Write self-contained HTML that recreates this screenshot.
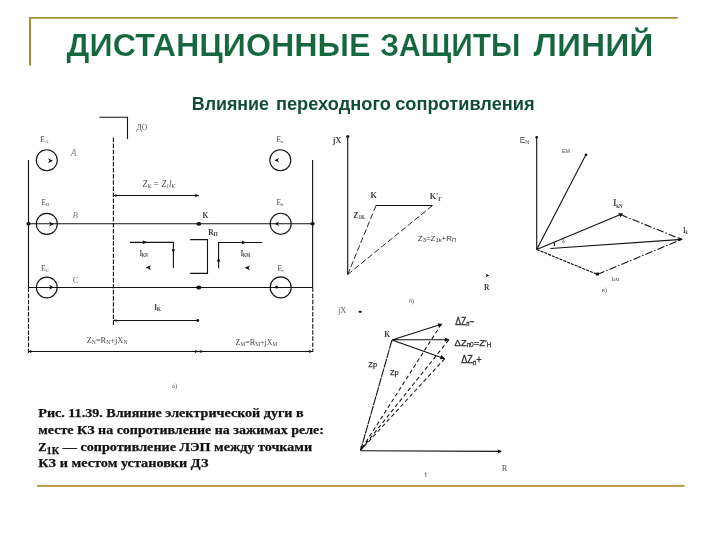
<!DOCTYPE html>
<html><head><meta charset="utf-8">
<style>
html,body{margin:0;padding:0;background:#fff;}
body{width:720px;height:540px;overflow:hidden;position:relative;font-family:"Liberation Sans",sans-serif;}
svg{position:absolute;left:0;top:0;will-change:transform;}
.t{font-family:"Liberation Sans",sans-serif;font-weight:bold;fill:#15673e;stroke:#fff;stroke-width:.22;}
.s{font-family:"Liberation Serif",serif;fill:#4a4a4a;}
.c{font-family:"Liberation Serif",serif;font-weight:bold;fill:#111;stroke:#111;stroke-width:.25;}
.l{stroke:#111;stroke-width:1.1;fill:none;}
.d{stroke:#111;stroke-width:1.1;fill:none;stroke-dasharray:4.6 1.5;}
.k{fill:#111;stroke:none;}
.b{font-weight:bold;fill:#3a3a3a;}
.d2{stroke:#111;stroke-width:.9;fill:none;stroke-dasharray:6 2.6;}
</style></head>
<body>
<svg width="720" height="540" viewBox="0 0 720 540">
<!-- gold frame -->
<rect x="29" y="17" width="648.8" height="1.8" fill="#a8943a"/>
<rect x="29" y="17" width="2.1" height="48.6" fill="#a38f3a"/>
<rect x="37" y="484.9" width="647.5" height="2" fill="#bb9848"/>
<!-- titles -->
<text class="t" x="66.6" y="56.3" font-size="32" textLength="304" lengthAdjust="spacingAndGlyphs">ДИСТАНЦИОННЫЕ</text>
<text class="t" x="380.3" y="56.3" font-size="32" textLength="140" lengthAdjust="spacingAndGlyphs">ЗАЩИТЫ</text>
<text class="t" x="533.4" y="56.3" font-size="32" textLength="120" lengthAdjust="spacingAndGlyphs">ЛИНИЙ</text>
<text class="t" style="stroke-width:0;fill:#0f4d35" x="191.8" y="109.6" font-size="18" textLength="77.2" lengthAdjust="spacingAndGlyphs">Влияние</text>
<text class="t" style="stroke-width:0;fill:#0f4d35" x="275.9" y="109.6" font-size="18" textLength="115" lengthAdjust="spacingAndGlyphs">переходного</text>
<text class="t" style="stroke-width:0;fill:#0f4d35" x="395.2" y="109.6" font-size="18" textLength="139.5" lengthAdjust="spacingAndGlyphs">сопротивления</text>
<!-- caption -->
<g id="cap">
<text class="c" x="38.3" y="416.9" font-size="13" textLength="265.3" lengthAdjust="spacingAndGlyphs">Рис. 11.39. Влияние электрической дуги в</text>
<text class="c" x="38.3" y="433.6" font-size="13" textLength="285.6" lengthAdjust="spacingAndGlyphs">месте КЗ на сопротивление на зажимах реле:</text>
<text class="c" x="38.3" y="450.7" font-size="13" textLength="273.8" lengthAdjust="spacingAndGlyphs"><tspan font-size="11.5">Z</tspan><tspan font-size="9.5" dy="3">1К</tspan><tspan dy="-3"> — сопротивление ЛЭП между точками</tspan></text>
<text class="c" x="38.3" y="467.4" font-size="13" textLength="170.2" lengthAdjust="spacingAndGlyphs">КЗ и местом установки ДЗ</text>
</g>
<!-- diagram a -->
<g id="da">
<path class="l" d="M99.4,117.2 H127.5 V139"/>
<path class="d" d="M113.4,137.5 V326"/>
<path class="l" d="M28.5,160 V287.5"/>
<path class="d" d="M28.5,287.5 V353" stroke-dasharray="5.2 1.5"/>
<path class="l" d="M312.6,160 V287.5"/>
<path class="d" d="M312.8,287.5 V352" stroke-dasharray="5.2 1.5"/>
<path class="l" d="M28.5,223.8 H312.6 M28.5,287.5 H312.6"/>
<circle class="l" stroke-width=".95" cx="46.8" cy="160.2" r="10.5"/>
<circle class="l" stroke-width=".95" cx="46.8" cy="223.9" r="10.5"/>
<circle class="l" stroke-width=".95" cx="46.8" cy="287.5" r="10.4"/>
<circle class="l" stroke-width=".95" cx="280.3" cy="160.2" r="10.5"/>
<circle class="l" stroke-width=".95" cx="280.7" cy="223.8" r="10.5"/>
<circle class="l" stroke-width=".95" cx="280.7" cy="287.4" r="10.5"/>
<ellipse class="k" cx="28.5" cy="223.8" rx="2.1" ry="1.8"/>
<ellipse class="k" cx="198.8" cy="223.8" rx="2.5" ry="1.9"/>
<ellipse class="k" cx="198.8" cy="287.5" rx="2.5" ry="1.9"/>
<ellipse class="k" cx="312.6" cy="223.8" rx="2.1" ry="1.8"/>
<!-- source arrows -->
<path class="k" d="M48,158.2 L53,160.7 L48,163.2 L49.5,160.7Z"/>
<path class="k" d="M49,221.5 L54,224 L49,226.5 L50.5,224Z"/>
<path class="k" d="M49,284.8 L54,287.3 L49,289.8 L50.5,287.3Z"/>
<path class="k" d="M279,158 L274.5,160.3 L279,162.6 L277.8,160.3Z"/>
<path class="k" d="M279,221.5 L274.5,223.8 L279,226.1 L277.8,223.8Z"/>
<circle class="k" cx="276.5" cy="287" r="1.5"/>
<!-- Zk arrow -->
<path class="l" d="M113.4,195.5 H198.8"/>
<path class="k" d="M199.2,195.5 L194.8,193.8 L195.8,195.5 L194.8,197.2Z"/>
<path class="k" d="M113.4,195.5 L116.6,193.9 L116.1,195.5 L116.6,197.1Z"/>
<!-- IkN -->
<path class="l" d="M130,242.4 H173.4 V268"/>
<path class="k" d="M147.5,242.3 L142.3,240.3 L143.5,242.3 L142.3,244.3Z"/>
<path class="k" d="M173.3,253.3 L171.6,249 L173.3,249.6 L175,249Z"/>
<path class="k" d="M145.5,267.6 L151,265.2 L149.6,267.6 L151,270Z"/>
<!-- Rp -->
<path class="l" d="M190.2,239.6 H207.5 V273.4 H190.2"/>
<!-- IkM -->
<path class="l" d="M218.6,268.3 V242.5 H262.2"/>
<path class="k" d="M218.5,257 L216.7,262 L218.5,261 L220.3,262Z"/>
<path class="k" d="M246.5,242.5 L241.5,240.5 L242.7,242.5 L241.5,244.5Z"/>
<path class="k" d="M244.5,267.8 L250,265.4 L248.6,267.8 L250,270.2Z"/>
<!-- lk -->
<path class="l" d="M113.4,320.5 H197.5"/>
<path class="k" d="M113.4,320.5 L116.6,318.9 L116.1,320.5 L116.6,322.1Z"/>
<circle class="k" cx="197.8" cy="320.5" r="1.4"/>
<!-- bottom dim -->
<path class="l" d="M28.5,351.5 H312.8"/>
<path class="k" d="M28.3,351.5 L31.5,349.8 L31,351.5 L31.5,353.2Z M198,351.5 L194.8,349.8 L195.3,351.5 L194.8,353.2Z M198.6,351.5 L201.8,349.8 L201.3,351.5 L201.8,353.2Z M312.2,351.5 L309,349.8 L309.5,351.5 L309,353.2Z"/>
<!-- labels -->
<g class="s" font-size="7.5">
<text x="136.5" y="129.8" font-size="8.3" textLength="10.8" lengthAdjust="spacingAndGlyphs">ДО</text>
<text x="40.3" y="141.8">E<tspan font-size="5" dy="1">A</tspan></text>
<text x="70.8" y="156.3" font-size="9.5" font-style="italic" fill="#888">A</text>
<text x="41.5" y="205">E<tspan font-size="5" dy="1">B</tspan></text>
<text x="72.5" y="217.6" font-size="9" font-style="italic" fill="#888">B</text>
<text x="41" y="270.5">E<tspan font-size="5" dy="1">C</tspan></text>
<text x="72.8" y="283" font-size="9" fill="#777">C</text>
<text x="276.5" y="142.4">E<tspan font-size="5" dy="1">a</tspan></text>
<text x="276.5" y="205">E<tspan font-size="5" dy="1">b</tspan></text>
<text x="277.5" y="270.5">E<tspan font-size="5" dy="1">c</tspan></text>
<text x="142.5" y="187" font-size="10" font-style="italic" textLength="32.5" lengthAdjust="spacingAndGlyphs">Z<tspan font-size="6" dy="1">K</tspan><tspan dy="-1"> = Z</tspan><tspan font-size="6" dy="1">1</tspan><tspan dy="-1">l</tspan><tspan font-size="6" dy="1">K</tspan></text>
<text class="b" x="202.6" y="217.5">K</text>
<text class="b" x="208.2" y="235">R<tspan font-size="5.5" dy="1">П</tspan></text>
<text class="b" x="139.7" y="255.8" font-size="8" textLength="8.2" lengthAdjust="spacingAndGlyphs">I<tspan font-size="5.5" dy="1">KN</tspan></text>
<text class="b" x="240.7" y="255.5" font-size="8" textLength="9.6" lengthAdjust="spacingAndGlyphs">I<tspan font-size="5.5" dy="1">KM</tspan></text>
<text class="b" x="154.5" y="310" font-size="8">l<tspan font-size="5.5" dy="1">K</tspan></text>
<text x="86.7" y="343.2" font-size="9" textLength="40.8" lengthAdjust="spacingAndGlyphs">Z<tspan font-size="6" dy="1">N</tspan><tspan dy="-1">=R</tspan><tspan font-size="6" dy="1">N</tspan><tspan dy="-1">+jX</tspan><tspan font-size="6" dy="1">N</tspan></text>
<text x="235.5" y="345.3" font-size="8" textLength="42" lengthAdjust="spacingAndGlyphs">Z<tspan font-size="5.5" dy="1">M</tspan><tspan dy="-1">=R</tspan><tspan font-size="5.5" dy="1">M</tspan><tspan dy="-1">+jX</tspan><tspan font-size="5.5" dy="1">M</tspan></text>
<text x="172" y="388" font-size="6.5">a)</text>
</g>
</g>
<!-- diagram b -->
<g id="db">
<path class="l" d="M347.7,136.5 V274.4" stroke-width="1.25"/>
<circle class="k" cx="347.8" cy="136.5" r="1.6"/>
<path class="l" d="M375.8,205.5 H432.6" stroke-width="1.2"/>
<path class="d2" d="M376,205.6 L347.8,274.4 M432.4,205.6 L347.8,274.4"/>
<path class="k" d="M489.3,275.5 L485.8,273.8 L486.5,275.5 L485.8,277.2Z"/>
<g class="s" font-size="7.5">
<text class="b" x="332.8" y="142.9" font-size="8">jX</text>
<text class="b" x="370.6" y="197.6" font-size="8">K</text>
<text class="b" x="429.8" y="199" font-size="8">K'<tspan font-size="6" dy="2">Г</tspan></text>
<text class="b" x="353.2" y="218.2" font-size="8.5" textLength="11.8" lengthAdjust="spacingAndGlyphs">Z<tspan font-size="5.5" dy="1.2">1K</tspan></text>
<text class="b" x="417.8" y="241.3" font-size="7.5" textLength="38.4" lengthAdjust="spacingAndGlyphs" style='font-family:"Liberation Sans",sans-serif;font-weight:normal'>Z<tspan font-size="5.5" dy="1">3</tspan><tspan dy="-1">=Z</tspan><tspan font-size="5.5" dy="1">1k</tspan><tspan dy="-1">+R</tspan><tspan font-size="5.5" dy="1">П</tspan></text>
<text class="b" x="484" y="290.3">R</text>
<text x="409" y="303" font-size="6">б)</text>
</g>
</g>
<!-- diagram v -->
<g id="dv">
<path class="l" d="M536.7,137 V249.5" stroke-width="1.2"/>
<circle class="k" cx="536.7" cy="137.3" r="1.3"/>
<path class="l" d="M536.7,249.5 L586,154.6" stroke-width="1"/>
<circle class="k" cx="586" cy="154.8" r="1.4"/>
<path class="l" d="M536.7,249.5 L620.5,214.6"/>
<path class="l" d="M550.5,248.5 L682,239.4" stroke-width="1"/>
<path class="l" d="M536.7,249.5 L597.4,274.4" stroke-dasharray="3.2 .9"/>
<path class="l" d="M620.5,214.6 L681.6,239.4" stroke-dasharray="7.5 2 1.5 2"/>
<path class="l" d="M597.4,274.4 L681.6,239.4" stroke-dasharray="7.5 2 1.5 2"/>
<path class="k" d="M620.6,217.2 L618.2,213.3 L623,213.3Z"/>
<path class="k" d="M595.8,272.8 L599.2,272.6 L598.8,275.6 L596,275.4Z"/>
<path class="k" d="M683,239.3 L678.6,237.3 L679,241.3Z"/>
<path class="l" d="M553.8,242 Q555,244 554.3,246" stroke-width=".8"/>
<g class="s" font-size="7.5">
<text x="519.8" y="143" font-size="8.2" style='font-family:"Liberation Sans",sans-serif;fill:#444'>E<tspan font-size="5.5" dy="1">N</tspan></text>
<text x="562" y="152.5" font-size="5.5" style='font-family:"Liberation Sans",sans-serif'>E<tspan font-size="5" dy=".6">M</tspan></text>
<text class="b" x="613.3" y="206.3" font-size="9.5" textLength="9.4" lengthAdjust="spacingAndGlyphs">I<tspan font-size="6" dy="1.2">kN</tspan></text>
<text class="b" x="683" y="233" font-size="9" textLength="4.8" lengthAdjust="spacingAndGlyphs">I<tspan font-size="5.5" dy="1">k</tspan></text>
<text x="611.5" y="280.6" font-size="6.5" textLength="8" lengthAdjust="spacingAndGlyphs">I<tspan font-size="5" dy=".8">kM</tspan></text>
<text x="562" y="243" font-size="5.5" fill="#333">δ</text>
<text x="601.8" y="291.8" font-size="6.5">в)</text>
</g>
</g>
<!-- diagram g -->
<g id="dg">
<ellipse class="k" cx="360.2" cy="311.8" rx="1.7" ry="1.1"/>
<path class="l" d="M392,339.9 L441.3,324.2 M392,339.8 H448.7 M392,339.9 L444.7,358.7"/>
<path class="k" d="M442.5,324 L437.6,323.3 L438.9,327.5Z M449.5,339.7 L444.8,337.6 L444.8,341.8Z M445,358.8 L441.3,355 L439.8,359.3Z"/>
<path class="l" d="M392,340 L360.7,450" stroke-width="1" stroke-dasharray="9 .8"/>
<path class="d2" style="stroke-width:1.05;stroke-dasharray:4 2.8" d="M441.3,324.2 L360.8,450 M448.7,340 L360.8,450 M444.7,358.7 L360.8,450"/>
<path class="l" d="M360.2,450.7 L500.8,451.4" stroke-width="1.35"/>
<path class="k" d="M502,451.4 L497.5,449.3 L498.3,451.4 L497.5,453.5Z"/>
<path class="k" d="M360.3,451 L360.7,445.8 L363.8,447Z"/>
<g class="s" font-size="7.5">
<text x="338" y="313.4" font-size="8.5" fill="#666">jX</text>
<text class="b" x="384.2" y="336.8" font-size="7.5">K</text>
<text x="501.8" y="470.9" font-size="8.5" fill="#555">R</text>
<path d="M425.8,472.6 V477 M424.6,473.6 L425.8,472.6" stroke="#555" stroke-width=".8" fill="none"/>
</g>
<g style='font-family:"Liberation Sans",sans-serif;fill:#2a2a2a;stroke:#2a2a2a;stroke-width:.25' font-size="10">
<text transform="translate(455.2,325.2) scale(1,1.15)" font-size="8.8" textLength="19.4" lengthAdjust="spacingAndGlyphs">ΔZ<tspan font-size="6" dy="1">п</tspan><tspan dy="-1">−</tspan></text>
<text x="454.6" y="345.8" font-size="9.5" textLength="36.8" lengthAdjust="spacingAndGlyphs">ΔZ<tspan font-size="6.5" dy="1">п0</tspan><tspan dy="-1">=Z'</tspan><tspan font-size="6.5" dy="1.5">Н</tspan></text>
<text transform="translate(461.2,363.4) scale(1,1.12)" font-size="9" textLength="20.5" lengthAdjust="spacingAndGlyphs">ΔZ<tspan font-size="6" dy="1">п</tspan><tspan dy="-1">+</tspan></text>
<text x="368.3" y="367.2" font-size="7.5" fill="#333">Zp</text>
<text x="390" y="375.2" font-size="7.5" fill="#333">Zp</text>
</g>
</g>
</svg>
</body></html>
